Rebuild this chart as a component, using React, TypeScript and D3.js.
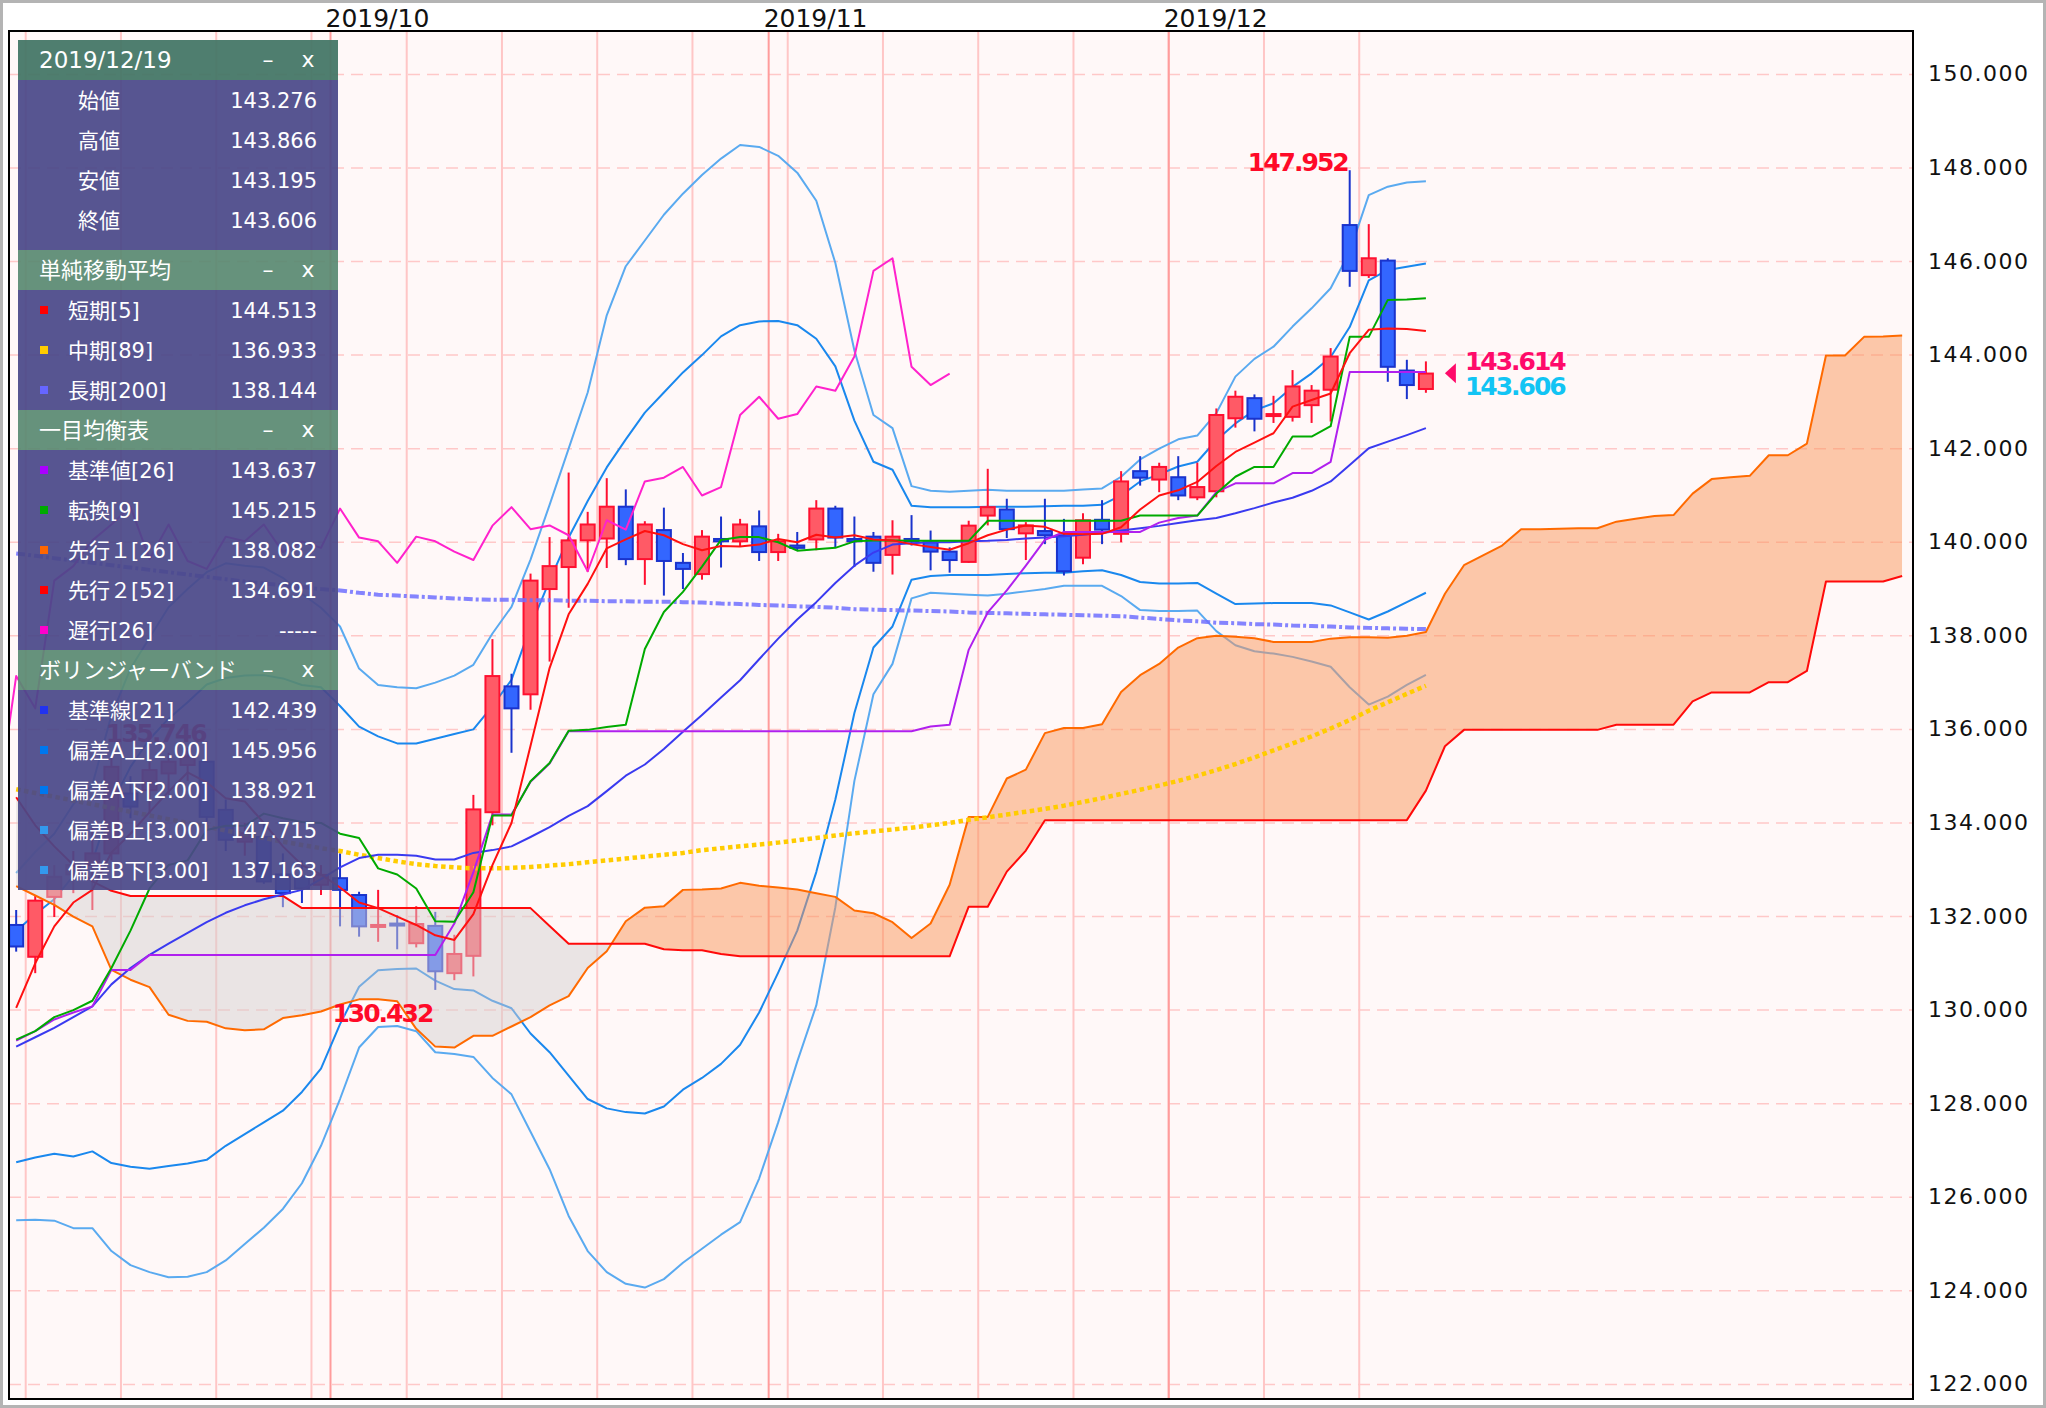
import React from 'react';
import * as d3 from 'd3';

// ---- daily candles, 2019/09/06 .. 2019/12/19 (index 0..74) ----
const opens = [131.82,131.14,132.42,132.9,133.1,133.35,134.63,134.7,135.06,135.24,135.31,134.28,133.6,133.7,132.9,132.85,132.68,132.82,132.46,131.79,131.85,131.43,131.8,130.79,131.16,134.23,136.92,136.75,139.0,139.47,140.04,140.08,140.76,139.64,140.26,139.56,139.32,140.07,140.02,140.34,139.79,139.93,140.06,140.72,140.07,140.12,139.73,140.07,140.0,139.8,139.58,140.57,140.7,140.19,140.24,140.15,139.67,140.48,140.18,141.52,141.34,141.39,140.96,141.09,142.65,143.08,142.7,142.68,142.93,143.26,146.78,145.71,146.02,143.67,143.276];
const highs = [132.14,132.45,133.1,133.4,133.9,135.45,135.0,135.3,135.5,135.6,135.746,134.5,134.0,134.0,133.35,133.2,133.1,133.35,132.53,132.57,132.03,132.22,132.1,131.61,134.6,137.93,137.19,139.33,140.11,141.49,140.65,141.37,141.13,140.45,140.74,139.77,140.26,140.55,140.5,140.68,140.18,140.22,140.9,140.78,140.55,140.22,140.47,140.58,140.25,139.89,140.46,141.57,140.93,140.43,140.93,140.5,140.62,140.9,141.52,141.84,141.7,141.84,141.7,142.86,143.24,143.16,143.13,143.68,143.36,144.15,147.952,146.8,146.07,143.9,143.866];
const lows = [131.25,130.79,131.99,132.5,132.14,133.2,134.1,134.2,134.6,134.9,133.9,133.4,133.3,132.7,132.2,132.29,132.46,131.79,131.57,131.46,131.3,131.34,130.432,130.64,130.72,133.95,135.5,136.42,137.45,138.6,139.37,139.45,139.51,139.09,138.86,139.0,139.2,139.46,139.9,139.6,139.6,139.83,139.83,139.89,139.47,139.37,139.31,139.93,139.4,139.35,139.56,140.36,140.09,139.62,139.96,139.29,139.53,139.96,140.0,141.21,141.07,140.9,140.9,140.96,142.45,142.37,142.55,142.58,142.55,142.58,145.46,145.65,143.43,143.06,143.195];
const closes = [131.36,132.34,132.85,133.1,133.35,135.2,134.35,135.13,135.31,135.42,134.13,133.64,133.78,132.75,132.5,132.6,132.89,132.57,131.79,131.82,131.82,131.84,130.83,131.2,134.29,137.14,136.45,139.18,139.49,140.04,140.38,140.76,139.64,140.38,139.6,139.43,140.12,140.02,140.38,139.79,140.02,139.88,140.72,140.1,140.02,139.56,140.12,140.02,139.8,139.62,140.355,140.75,140.28,140.36,140.15,139.38,140.47,140.27,141.3,141.38,141.61,141.0,141.18,142.72,143.11,142.64,142.74,143.33,143.24,143.97,145.8,146.07,143.75,143.36,143.606];

// ---- moving averages ----
const sma5 = [130.05,131.0,131.79,132.3,132.57,133.37,133.77,134.23,134.67,135.08,134.87,134.53,134.46,134.0,133.5,133.1,132.9,132.62,132.3,132.18,132.0,131.82,131.6,131.5,132.05,133.1,134.0,135.65,137.31,138.46,139.11,139.87,140.06,140.24,140.15,139.96,139.83,139.92,139.91,139.95,140.07,140.0,140.16,140.1,140.15,140.06,140.04,139.96,139.9,139.84,139.98,140.15,140.27,140.36,140.33,140.18,140.17,140.18,140.32,140.7,141.0,141.11,141.29,141.63,141.93,142.13,142.33,142.9,143.04,143.18,144.04,144.54,144.57,144.56,144.513];
const sma89 = [134.72,134.64,134.56,134.48,134.4,134.32,134.24,134.16,134.08,134.0,133.92,133.84,133.76,133.68,133.6,133.53,133.46,133.4,133.32,133.25,133.18,133.12,133.08,133.05,133.03,133.03,133.04,133.06,133.09,133.12,133.16,133.2,133.24,133.28,133.32,133.36,133.42,133.46,133.5,133.54,133.58,133.63,133.68,133.73,133.78,133.82,133.86,133.9,133.95,134.0,134.07,134.12,134.18,134.24,134.3,134.37,134.45,134.53,134.62,134.71,134.8,134.9,135.01,135.13,135.26,135.4,135.55,135.7,135.85,136.02,136.2,136.4,136.58,136.76,136.933];
const sma200 = [139.76,139.71,139.66,139.61,139.56,139.51,139.46,139.41,139.36,139.31,139.26,139.21,139.16,139.12,139.08,139.04,139.0,138.97,138.92,138.88,138.86,138.84,138.82,138.8,138.78,138.77,138.77,138.76,138.76,138.75,138.75,138.74,138.74,138.73,138.73,138.72,138.71,138.69,138.68,138.66,138.65,138.63,138.62,138.6,138.57,138.56,138.55,138.54,138.53,138.52,138.5,138.49,138.48,138.47,138.46,138.45,138.44,138.43,138.42,138.39,138.36,138.33,138.31,138.28,138.27,138.25,138.24,138.22,138.21,138.2,138.18,138.17,138.16,138.15,138.144];

// ---- ichimoku ----
const kijun = [129.35,129.55,129.8,129.95,130.08,130.86,130.86,131.18,131.18,131.18,131.18,131.18,131.18,131.18,131.18,131.18,131.18,131.18,131.18,131.18,131.18,131.18,131.18,131.85,132.95,134.18,134.18,134.88,135.27,135.96,135.96,135.96,135.96,135.96,135.96,135.96,135.96,135.96,135.96,135.96,135.96,135.96,135.96,135.96,135.96,135.96,135.96,135.96,136.06,136.1,137.7,138.5,138.97,139.5,140.05,140.22,140.22,140.22,140.22,140.22,140.42,140.52,140.57,141.07,141.26,141.26,141.26,141.48,141.48,141.72,143.637,143.637,143.637,143.637,143.637];
const tenkan = [129.37,129.55,129.85,130.0,130.2,130.9,131.7,132.6,133.1,133.2,133.85,133.94,133.94,134.2,134.1,134.02,134.0,133.77,133.68,133.03,132.9,132.6,131.9,131.89,132.52,134.16,134.16,134.89,135.28,135.97,135.99,136.05,136.1,137.72,138.51,138.94,139.48,140.05,140.11,140.11,140.0,139.82,139.85,139.88,140.02,140.04,140.04,140.03,140.03,140.03,140.03,140.46,140.46,140.46,140.46,140.46,140.46,140.46,140.46,140.57,140.57,140.57,140.57,141.04,141.4,141.61,141.61,142.26,142.26,142.48,144.39,144.39,145.18,145.19,145.215];
const senkouA = [132.65,132.45,132.25,132.0,131.79,130.86,130.65,130.49,129.9,129.77,129.75,129.61,129.57,129.59,129.83,129.89,129.97,130.12,130.23,130.23,130.19,129.6,129.22,129.2,129.45,129.45,129.65,129.85,130.1,130.3,130.9,131.26,131.9,132.19,132.22,132.57,132.58,132.6,132.72,132.66,132.62,132.58,132.5,132.42,132.13,132.07,131.88,131.54,131.85,132.68,134.13,134.13,134.95,135.14,135.92,136.03,136.03,136.11,136.8,137.16,137.4,137.75,137.95,138.0,137.98,137.95,137.87,137.87,137.87,137.94,137.97,137.97,137.96,138.0,138.082,138.9,139.51,139.72,139.93,140.28,140.28,140.29,140.3,140.3,140.44,140.5,140.56,140.58,141.04,141.35,141.39,141.42,141.86,141.86,142.11,143.99,143.99,144.39,144.4,144.42];
const senkouB = [134.55,133.95,133.5,133.1,132.75,132.55,132.44,132.44,132.44,132.44,132.44,132.44,132.44,132.44,132.44,132.18,132.18,132.18,132.18,132.18,132.18,132.18,132.18,132.18,132.18,132.18,132.18,132.18,131.8,131.42,131.42,131.42,131.42,131.42,131.3,131.28,131.28,131.2,131.15,131.15,131.15,131.15,131.15,131.15,131.15,131.15,131.15,131.15,131.15,131.15,132.21,132.21,132.96,133.41,134.06,134.06,134.06,134.06,134.06,134.06,134.06,134.06,134.06,134.06,134.06,134.06,134.06,134.06,134.06,134.06,134.06,134.06,134.06,134.06,134.691,135.64,135.99,135.99,135.99,135.99,135.99,135.99,135.99,135.99,136.1,136.1,136.1,136.1,136.6,136.79,136.79,136.79,137.01,137.01,137.25,139.16,139.16,139.16,139.16,139.28];

// ---- bollinger bands ----
const bbMid = [129.22,129.42,129.62,129.85,130.08,130.55,130.9,131.18,131.42,131.65,131.88,132.08,132.24,132.37,132.47,132.57,132.8,133.05,133.25,133.32,133.32,133.3,133.22,133.22,133.36,133.42,133.5,133.7,133.91,134.15,134.36,134.68,135.01,135.25,135.58,135.95,136.31,136.68,137.05,137.5,137.94,138.35,138.72,139.13,139.5,139.78,139.95,139.98,140.0,140.0,140.02,140.03,140.05,140.08,140.1,140.13,140.16,140.2,140.25,140.3,140.35,140.41,140.47,140.52,140.62,140.73,140.85,140.95,141.1,141.3,141.65,142.01,142.15,142.29,142.439];
const bbUp2 = [131.69,132.05,132.37,132.87,133.18,134.4,135.2,135.79,136.23,136.58,136.96,137.1,137.15,137.16,137.09,136.95,136.9,136.5,136.06,135.85,135.7,135.7,135.8,135.9,136.0,136.5,137.06,138.2,139.18,140.1,140.88,141.6,142.2,142.77,143.2,143.63,144.0,144.4,144.64,144.72,144.73,144.64,144.35,143.76,142.6,141.72,141.55,140.78,140.75,140.75,140.75,140.76,140.76,140.76,140.77,140.78,140.78,140.8,141.0,141.3,141.45,141.62,141.72,142.18,142.54,142.82,142.97,143.32,143.61,143.96,144.6,145.6,145.82,145.89,145.956];
const bbLo2 = [126.75,126.85,126.93,126.87,126.98,126.73,126.65,126.61,126.67,126.72,126.8,127.1,127.35,127.6,127.85,128.25,128.75,129.7,130.5,130.85,130.88,130.89,130.63,130.45,130.42,130.2,130.04,129.5,129.1,128.6,128.1,127.9,127.82,127.79,127.94,128.3,128.55,128.85,129.26,129.95,130.8,131.7,132.95,134.5,136.35,137.75,138.2,139.2,139.28,139.3,139.3,139.3,139.32,139.34,139.35,139.35,139.38,139.4,139.3,139.15,139.12,139.12,139.13,138.9,138.68,138.69,138.7,138.7,138.7,138.65,138.5,138.35,138.52,138.72,138.921];
const bbUp3 = [132.93,133.38,133.77,134.4,134.82,136.3,137.3,137.96,138.61,139.0,139.36,139.55,139.5,139.46,139.24,138.9,138.6,138.2,137.3,136.95,136.9,136.88,137.0,137.15,137.38,138.05,138.62,139.63,140.8,142.0,143.2,144.85,145.9,146.45,147.0,147.45,147.85,148.2,148.49,148.45,148.26,147.9,147.3,145.97,144.1,142.72,142.44,141.2,141.1,141.08,141.1,141.12,141.1,141.1,141.1,141.1,141.13,141.15,141.4,141.77,142.0,142.2,142.28,142.76,143.54,143.92,144.18,144.61,145.0,145.43,146.21,147.42,147.6,147.69,147.715];
const bbLo3 = [125.51,125.52,125.5,125.34,125.34,124.85,124.55,124.4,124.29,124.3,124.4,124.65,125.0,125.35,125.75,126.3,127.1,128.1,129.2,129.64,129.66,129.55,129.1,129.06,129.0,128.55,128.2,127.4,126.6,125.6,124.85,124.4,124.15,124.07,124.25,124.6,124.9,125.2,125.47,126.4,127.6,128.9,130.1,132.2,134.9,136.75,137.4,138.8,138.92,138.9,138.88,138.86,138.9,138.95,139.0,139.07,139.07,139.07,138.85,138.55,138.53,138.53,138.54,138.1,137.8,137.67,137.62,137.55,137.45,137.34,136.9,136.53,136.7,136.95,137.163];

// ---- axis ----
const yTicks = [122, 124, 126, 128, 130, 132, 134, 136, 138, 140, 142, 144, 146, 148, 150];
const monthTicks = [
  { label: '2019/10', idx: 17 },
  { label: '2019/11', idx: 40 },
  { label: '2019/12', idx: 61 },
];
const weekStarts = [1, 6, 11, 16, 21, 26, 31, 36, 41, 46, 51, 56, 61, 66, 71];

// ---- info panel ----
const panelDate = '2019/12/19';
const ohlcRows = [['始値', '143.276'], ['高値', '143.866'], ['安値', '143.195'], ['終値', '143.606']];
const smaRows = [['短期[5]', '144.513', '#ff0000'], ['中期[89]', '136.933', '#ffcc00'], ['長期[200]', '138.144', '#6666ff']];
const ichiRows = [
  ['基準値[26]', '143.637', '#aa00ff'],
  ['転換[9]', '145.215', '#00aa00'],
  ['先行１[26]', '138.082', '#ff6600'],
  ['先行２[52]', '134.691', '#ff0000'],
  ['遅行[26]', '-----', '#ff00cc'],
];
const bbRows = [
  ['基準線[21]', '142.439', '#2233ee'],
  ['偏差A上[2.00]', '145.956', '#0077ee'],
  ['偏差A下[2.00]', '138.921', '#0077ee'],
  ['偏差B上[3.00]', '147.715', '#3399ee'],
  ['偏差B下[3.00]', '137.163', '#3399ee'],
];

const W = 2046;
const H = 1408;
const plot = { left: 9, right: 1913, top: 31, bottom: 1399 };
const FONT = "'DejaVu Sans', 'Noto Sans CJK JP', sans-serif";

const x = d3.scaleLinear().domain([0, 74]).range([16.18, 1425.9]);
const y = d3.scaleLinear().domain([122, 150]).range([1384.4, 74.4]);

function pathOf(values: number[], offset = 0) {
  return d3.line<number>().x((_, i) => x(i + offset)).y(v => y(v))(values) || '';
}

function PanelHeader({ top, text, fill }: { top: number; text: string; fill: string }) {
  return (
    <g>
      <rect x={18} y={top} width={320} height={40} fill={fill} fillOpacity={0.93} />
      <text x={39} y={top + 28} fontSize={22} fill="#fff">{text}</text>
      <text x={268} y={top + 27} fontSize={22} fill="#fff" textAnchor="middle">–</text>
      <text x={308} y={top + 27} fontSize={22} fill="#fff" textAnchor="middle">x</text>
    </g>
  );
}

function IndicatorRows({ top, rows }: { top: number; rows: string[][] }) {
  return (
    <g>
      <rect x={18} y={top} width={320} height={rows.length * 40} fill="#4a4889" fillOpacity={0.93} />
      {rows.map((r, k) => (
        <g key={k}>
          <rect x={40} y={top + k * 40 + 16} width={8} height={8} fill={r[2]} />
          <text x={68} y={top + k * 40 + 28} fontSize={21} fill="#fff">{r[0]}</text>
          <text x={317} y={top + k * 40 + 28} fontSize={21} fill="#fff" textAnchor="end">{r[1]}</text>
        </g>
      ))}
    </g>
  );
}

export default function App() {
  const areaAB = d3.area<number>().x((_, i) => x(i)).y0((_, i) => y(senkouB[i])).y1(v => y(v))(senkouA) || '';
  const aboveB = d3.area<number>().x((_, i) => x(i)).y0(0).y1(v => y(v))(senkouB) || '';
  const belowB = d3.area<number>().x((_, i) => x(i)).y0(H).y1(v => y(v))(senkouB) || '';
  const chikou = closes.slice(24);

  const lastX = x(74);

  return (
    <svg width={W} height={H} style={{ position: 'absolute', left: 0, top: 0 }} fontFamily={FONT}>
      <defs>
        <clipPath id="plotClip">
          <rect x={plot.left} y={plot.top} width={plot.right - plot.left} height={plot.bottom - plot.top} />
        </clipPath>
        <clipPath id="aboveB"><path d={aboveB} /></clipPath>
        <clipPath id="belowB"><path d={belowB} /></clipPath>
      </defs>
      <rect x={0} y={0} width={W} height={H} fill="#fff" />
      <rect x={1.5} y={1.5} width={W - 3} height={H - 3} fill="none" stroke="#b4b4b4" strokeWidth={3} />
      <rect x={plot.left} y={plot.top} width={plot.right - plot.left} height={plot.bottom - plot.top} fill="#fff8f8" />

      <g clipPath="url(#plotClip)">
        {/* grid */}
        {yTicks.map(t => (
          <line key={t} x1={plot.left} x2={plot.right} y1={y(t)} y2={y(t)} stroke="#ffc8c8" strokeWidth={1.5} strokeDasharray="12,7" />
        ))}
        {weekStarts.map(i => (
          <line key={'w' + i} x1={x(i - 0.5)} x2={x(i - 0.5)} y1={plot.top} y2={plot.bottom} stroke="#ffc6c6" strokeWidth={2} />
        ))}
        {monthTicks.map(m => (
          <line key={m.label} x1={x(m.idx - 0.5)} x2={x(m.idx - 0.5)} y1={plot.top} y2={plot.bottom} stroke="#ff9c9c" strokeWidth={2} />
        ))}

        {/* bollinger bands */}
        <g fill="none" strokeWidth={2} strokeLinejoin="round">
          <path d={pathOf(bbUp3)} stroke="#5aaaf0" />
          <path d={pathOf(bbLo3)} stroke="#5aaaf0" />
          <path d={pathOf(bbUp2)} stroke="#1a88ee" />
          <path d={pathOf(bbLo2)} stroke="#1a88ee" />
        </g>

        {/* candles */}
        {closes.map((c, i) => {
          const o = opens[i];
          const up = c >= o;
          const stroke = up ? '#ff1030' : '#1a33cc';
          const fill = up ? '#ff5a66' : '#3366ff';
          const yTop = y(Math.max(o, c));
          const hBody = Math.max(y(Math.min(o, c)) - yTop, 2);
          return (
            <g key={i}>
              <line x1={x(i)} x2={x(i)} y1={y(highs[i])} y2={y(lows[i])} stroke={stroke} strokeWidth={2} />
              <rect x={x(i) - 7} y={yTop} width={14} height={hBody} fill={fill} stroke={stroke} strokeWidth={2} />
            </g>
          );
        })}

        {/* kumo */}
        <path d={areaAB} fill="#f9955a" fillOpacity={0.5} clipPath="url(#aboveB)" />
        <path d={areaAB} fill="#d6d0d0" fillOpacity={0.5} clipPath="url(#belowB)" />
        <g fill="none" strokeWidth={2} strokeLinejoin="round">
          <path d={pathOf(senkouA)} stroke="#ff6a00" />
          <path d={pathOf(senkouB)} stroke="#ff0a0a" />
        </g>

        {/* moving averages and ichimoku lines */}
        <g fill="none" strokeLinejoin="round">
          <path d={pathOf(sma200)} stroke="#7070ff" strokeOpacity={0.85} strokeWidth={4} strokeDasharray="9,3,3,3" />
          <path d={pathOf(sma89)} stroke="#ffcc00" strokeWidth={4.5} strokeDasharray="4.5,3.5" />
          <path d={pathOf(bbMid)} stroke="#3a3af0" strokeWidth={2} />
          <path d={pathOf(kijun)} stroke="#b020ee" strokeWidth={2} />
          <path d={pathOf(tenkan)} stroke="#00aa00" strokeWidth={2} />
          <path d={pathOf(sma5)} stroke="#ff1010" strokeWidth={2} />
          <path d={pathOf(chikou, -1)} stroke="#ff22cc" strokeWidth={2} />
        </g>

        {/* high / low labels */}
        <g fontWeight="bold" fontSize={25} fill="#ff0a28" letterSpacing={-2} textAnchor="end">
          <text x={x(70) - 2} y={y(147.952) + 1}>147.952</text>
          <text x={x(22) - 3} y={y(130.432) + 32}>130.432</text>
          <text x={x(10) - 1} y={y(135.746) + 1}>135.746</text>
        </g>

        {/* price markers */}
        <path d={`M${lastX + 19},${y(143.614)} L${lastX + 30},${y(143.614) - 10} L${lastX + 30},${y(143.614) + 10} Z`} fill="#ff0a6a" />
        <g fontWeight="bold" fontSize={25} letterSpacing={-2}>
          <text x={lastX + 39} y={y(143.614) - 3} fill="#ff0a6a">143.614</text>
          <text x={lastX + 39} y={y(143.614) + 22} fill="#12c4f4">143.606</text>
        </g>
      </g>

      {/* info panel */}
      <g>
        <rect x={18} y={40} width={320} height={40} fill="#467767" fillOpacity={0.95} />
        <text x={39} y={68} fontSize={23} fill="#fff">{panelDate}</text>
        <text x={268} y={67} fontSize={22} fill="#fff" textAnchor="middle">–</text>
        <text x={308} y={67} fontSize={22} fill="#fff" textAnchor="middle">x</text>
        <rect x={18} y={80} width={320} height={170} fill="#4a4889" fillOpacity={0.93} />
        {ohlcRows.map((r, k) => (
          <g key={k}>
            <text x={78} y={108 + k * 40} fontSize={21} fill="#fff">{r[0]}</text>
            <text x={317} y={108 + k * 40} fontSize={21} fill="#fff" textAnchor="end">{r[1]}</text>
          </g>
        ))}
        <PanelHeader top={250} text="単純移動平均" fill="#5a8a72" />
        <IndicatorRows top={290} rows={smaRows} />
        <PanelHeader top={410} text="一目均衡表" fill="#5a8a72" />
        <IndicatorRows top={450} rows={ichiRows} />
        <PanelHeader top={650} text="ボリンジャーバンド" fill="#5a8a72" />
        <IndicatorRows top={690} rows={bbRows} />
      </g>

      <rect x={plot.left} y={plot.top} width={plot.right - plot.left} height={plot.bottom - plot.top} fill="none" stroke="#000" strokeWidth={2} />

      {/* axis labels */}
      {yTicks.map(t => (
        <text key={t} x={1928} y={y(t) + 7} fontSize={22} letterSpacing={1.5} fill="#111">{t.toFixed(3)}</text>
      ))}
      {monthTicks.map(m => (
        <text key={m.label} x={x(m.idx - 0.5) - 5} y={27} fontSize={25} fill="#111">{m.label}</text>
      ))}
    </svg>
  );
}
